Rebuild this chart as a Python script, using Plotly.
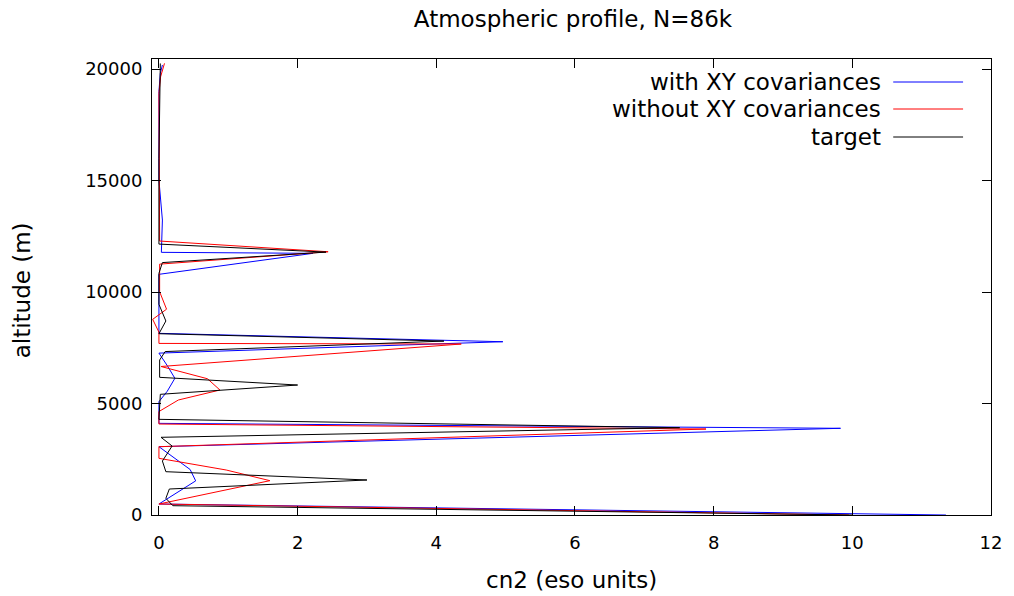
import plotly.graph_objects as go

# ---- data ----
target_alt = [0, 417, 749, 1166, 1570, 1942, 2420, 3094, 3484, 3915, 4290, 5412, 5829,
              6174, 6950, 7330, 7800, 8130, 8700, 9450, 10838, 11320, 11790, 12150, 16000, 20250]
target_val = [10.0, 0.2, 0.1, 0.15, 3.0, 0.1, 0.05, 0.19, 0.03, 7.51, 0.0, 0.02, 2.0,
              0.01, 0.01, 0.09, 4.11, 0.0, 0.1, 0.0, 0.0, 0.05, 2.41, 0.0, 0.0, 0.02]

with_alt = [0, 493, 1530, 2040, 3063, 3888, 4110, 5081, 5550, 6130, 6700, 7260, 7771,
            8147, 10793, 11735, 11780, 13228, 15021, 19000, 19800, 20180]
with_val = [11.35, 0.0, 0.53, 0.45, 0.0, 9.83, 0.0, 0.0, 0.12, 0.23, 0.12, 0.0, 4.96,
            0.0, 0.0, 2.22, 0.035, 0.05, 0.0, 0.0, 0.02, 0.05]

without_alt = [0, 493, 1540, 2018, 2542, 3063, 3856, 4080, 4640, 5157, 5605, 6110, 6660,
               7668, 7695, 8200, 8775, 9230, 10013, 11250, 11806, 12286, 18900, 19650, 20254]
without_val = [9.95, 0.0, 1.6, 0.97, 0.0, 0.0, 7.89, 0.0, 0.0, 0.28, 0.88, 0.7, 0.03,
               4.36, 0.0, 0.0, -0.09, 0.11, 0.01, 0.01, 2.44, 0.01, 0.0, 0.024, 0.08]

series_names = ["with XY covariances", "without XY covariances", "target"]
series_colors = ["#0000ff", "#ff0000", "#000000"]

x_ticks = [0, 2, 4, 6, 8, 10, 12]
y_ticks = [0, 5000, 10000, 15000, 20000]

FONT = "DejaVu Sans"
TXT = 23
TICK = 18

# plot-area pixel geometry
L, R, T, B = 152, 993, 59, 515


def px(xp):
    return (xp - L) / (R - L)


def py(yp):
    return (B - yp) / (B - T)


fig = go.Figure()
for xs, ys, name, col in [(with_val, with_alt, series_names[0], series_colors[0]),
                          (without_val, without_alt, series_names[1], series_colors[1]),
                          (target_val, target_alt, series_names[2], series_colors[2])]:
    fig.add_trace(go.Scatter(x=xs, y=ys, mode="lines", name=name,
                             line=dict(color=col, width=1), showlegend=False))

# gnuplot-like legend: right-aligned text, sample line on the right
legend_y = [82, 109, 137]
for name, col, ly in zip(series_names, series_colors, legend_y):
    fig.add_annotation(xref="paper", yref="paper", x=px(885), y=py(ly), text=name,
                       showarrow=False, xanchor="right", yanchor="middle",
                       font=dict(family=FONT, size=TXT, color="black"))
    fig.add_shape(type="line", xref="paper", yref="paper",
                  x0=px(895), x1=px(965), y0=py(ly), y1=py(ly),
                  line=dict(color=col, width=1))

# axis titles
fig.add_annotation(xref="paper", yref="paper", x=px(572), y=py(580),
                   text="cn2 (eso units)", showarrow=False, xanchor="center", yanchor="middle",
                   font=dict(family=FONT, size=TXT, color="black"))
fig.add_annotation(xref="paper", yref="paper", x=px(22), y=py(290),
                   text="altitude (m)", showarrow=False, textangle=-90,
                   xanchor="center", yanchor="middle",
                   font=dict(family=FONT, size=TXT, color="black"))

fig.update_layout(
    width=1014, height=596,
    margin=dict(l=L, r=1014 - R, t=T, b=596 - B),
    paper_bgcolor="white", plot_bgcolor="white",
    font=dict(family=FONT, size=TXT, color="black"),
    title=dict(text="Atmospheric profile, N=86k", x=573 / 1014, xanchor="center",
               y=1 - 19 / 596, yanchor="middle",
               font=dict(family=FONT, size=TXT, color="black")),
)
fig.update_xaxes(range=[-0.1, 12], tickvals=x_ticks, ticktext=[str(v) for v in x_ticks],
                 showgrid=False, zeroline=False, showline=True, linecolor="black", linewidth=1,
                 mirror="allticks", ticks="inside", ticklen=9, tickcolor="black",
                 ticklabelstandoff=11, tickfont=dict(family=FONT, size=TICK))
fig.update_yaxes(range=[0, 20450], tickvals=y_ticks, ticktext=[str(v) for v in y_ticks],
                 showgrid=False, zeroline=False, showline=True, linecolor="black", linewidth=1,
                 mirror="allticks", ticks="inside", ticklen=9, tickcolor="black",
                 ticklabelstandoff=5, tickfont=dict(family=FONT, size=TICK))

fig.write_html("out.html", config={"displayModeBar": False},
               post_script="document.body.style.margin='0px';document.body.style.overflow='hidden';")
